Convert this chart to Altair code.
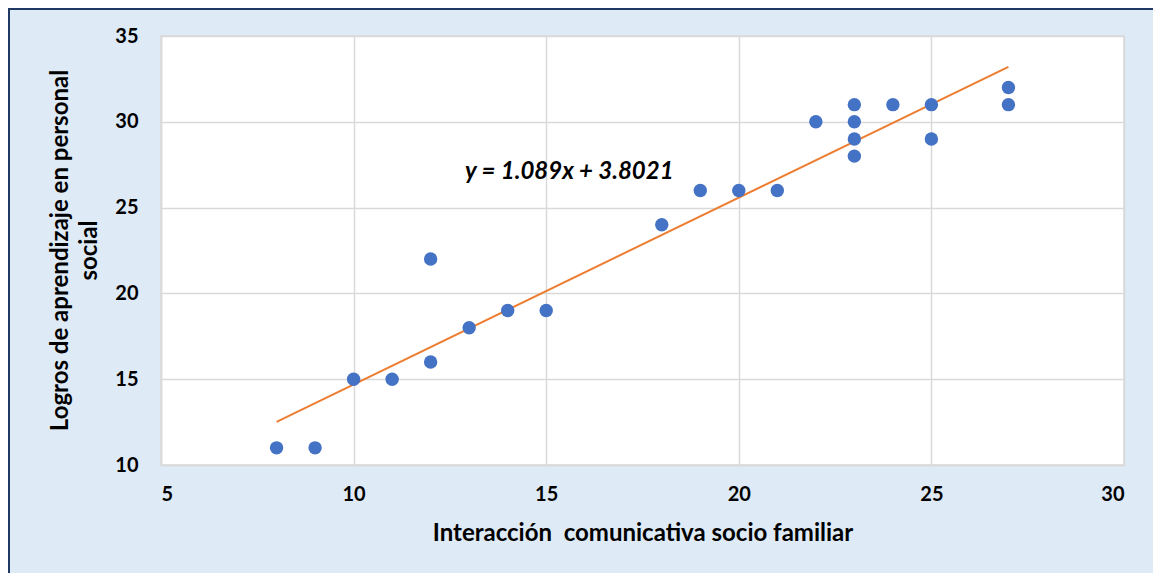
import altair as alt
import pandas as pd

# Data
x_vals = [8, 9, 10, 11, 12, 12, 13, 14, 15, 18, 19, 20, 21, 22, 23, 23, 23, 23, 24, 25, 25, 27, 27]
y_vals = [11, 11, 15, 15, 22, 16, 18, 19, 19, 24, 26, 26, 26, 30, 31, 30, 29, 28, 31, 31, 29, 32, 31]
slope = 1.089
intercept = 3.8021
eq_label = ["y = 1.089x + 3.8021"]
eq_pos_x = [15.6]
eq_pos_y = [27.1]
x_ticks = [5, 10, 15, 20, 25, 30]
y_ticks = [10, 15, 20, 25, 30, 35]
x_title = "Interacción\u00a0 comunicativa socio familiar"
y_title = ["Logros de aprendizaje en personal", "social"]

pts = pd.DataFrame({"x": x_vals, "y": y_vals})
line_df = pd.DataFrame({"x": [min(x_vals), max(x_vals)]})
line_df["y"] = slope * line_df["x"] + intercept
eq_df = pd.DataFrame({"x": eq_pos_x, "y": eq_pos_y, "t": eq_label})
one = pd.DataFrame({"a": [0]})

FONT = "Lato"

xs = alt.Scale(domain=[5, 30], nice=False, zero=False)
ys = alt.Scale(domain=[10, 35], nice=False, zero=False)

x_axis = alt.Axis(values=x_ticks, title=x_title, grid=True, ticks=False,
                  labelPadding=19, titleY=56, titleBaseline="top")
y_axis = alt.Axis(values=y_ticks, title=y_title, grid=True, ticks=False,
                  labelPadding=23, titleX=-113, titleY=214, titleBaseline="top",
                  titleAngle=-90, titleLineHeight=29, titleAlign="center")

points = alt.Chart(pts).mark_circle(size=180, color="#4472C4", opacity=1).encode(
    x=alt.X("x:Q", scale=xs, axis=x_axis),
    y=alt.Y("y:Q", scale=ys, axis=y_axis),
)

trend = alt.Chart(line_df).mark_line(color="#ED7D31", strokeWidth=2).encode(
    x=alt.X("x:Q", scale=xs),
    y=alt.Y("y:Q", scale=ys),
)

eq = alt.Chart(eq_df).mark_text(font=FONT, fontSize=24, fontWeight="bold",
                                fontStyle="italic", color="#000000").encode(
    x=alt.X("x:Q", scale=xs),
    y=alt.Y("y:Q", scale=ys),
    text="t:N",
)

border_top = alt.Chart(one).mark_rule(color="#203864", strokeWidth=2).encode(
    x=alt.value(-153), x2=alt.value(1000), y=alt.value(-27))
border_left = alt.Chart(one).mark_rule(color="#203864", strokeWidth=2).encode(
    x=alt.value(-152), y=alt.value(-28), y2=alt.value(540))

chart = alt.layer(trend, points, eq, border_top, border_left).properties(
    width=963, height=429,
    padding={"left": 153, "top": 28, "right": 29, "bottom": 108},
    autosize=alt.AutoSizeParams(type="none"),
    background="#DEEAF6",
).configure_view(
    stroke="#D9D9D9", fill="#FFFFFF", strokeWidth=1.5
).configure_axis(
    gridColor="#D9D9D9", gridWidth=1.5, domainColor="#D9D9D9", domainWidth=1.5,
    labelFont=FONT, labelFontSize=20, labelFontWeight="bold", labelColor="#000000",
    titleFont=FONT, titleFontSize=24, titleFontWeight="bold", titleColor="#000000",
)

chart.save("out.html", embed_options={"renderer": "svg", "actions": False})
